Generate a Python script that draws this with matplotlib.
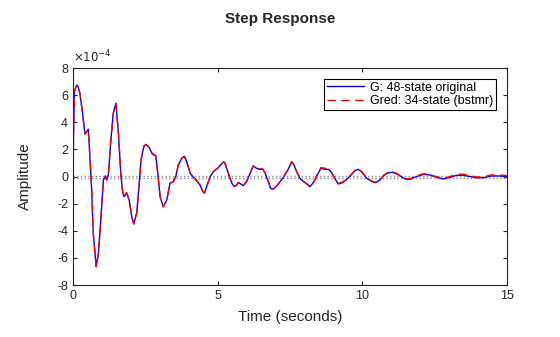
import numpy as np
import matplotlib.pyplot as plt

plt.rcParams['font.family'] = ['Liberation Sans', 'DejaVu Sans']
plt.rcParams['axes.unicode_minus'] = False

# step response samples, amplitude in units of 1e-4
t = [0, 0.02, 0.05, 0.13, 0.18, 0.24, 0.33, 0.41, 0.47, 0.53,
     0.59, 0.64, 0.70, 0.80, 0.88, 0.96, 1.05, 1.12, 1.16, 1.22,
     1.30, 1.39, 1.48, 1.57, 1.65, 1.72, 1.77, 1.85, 1.94, 2.03,
     2.10, 2.20, 2.28, 2.35, 2.45, 2.52, 2.63, 2.74, 2.86, 2.93,
     3.01, 3.12, 3.24, 3.35, 3.47, 3.55, 3.64, 3.76, 3.85, 3.93,
     4.05, 4.16, 4.27, 4.39, 4.47, 4.54, 4.62, 4.74, 4.85, 5.00,
     5.10, 5.20, 5.25, 5.37, 5.49, 5.57, 5.66, 5.71, 5.80, 5.89,
     6.00, 6.12, 6.23, 6.35, 6.44, 6.56, 6.64, 6.75, 6.83, 6.92,
     7.04, 7.16, 7.27, 7.39, 7.48, 7.56, 7.64, 7.75, 7.87, 8.02,
     8.19, 8.33, 8.44, 8.57, 8.71, 8.83, 8.92, 9.04, 9.17, 9.31,
     9.46, 9.61, 9.75, 9.86, 10.00, 10.15, 10.33, 10.46, 10.61, 10.76,
     10.90, 11.04, 11.19, 11.34, 11.50, 11.65, 11.80, 11.95, 12.11, 12.34,
     12.57, 12.80, 13.03, 13.26, 13.49, 13.72, 13.95, 14.18, 14.47, 14.70,
     15.0]

g = [0, 3.5, 6.3, 6.75, 6.6, 6.1, 4.66, 3.13, 3.3, 3.48,
     1.2, -0.75, -4.2, -6.65, -5.65, -3.2, -0.26, 0.04, -0.26, 0.1,
     2.45, 4.66, 5.4, 3.19, 0.24, -1.24, -1.49, -1.19, -1.73, -2.96,
     -3.5, -2.7, -0.75, 1.2, 2.25, 2.35, 2.15, 1.66, 1.51, 0.24,
     -1.49, -2.23, -1.73, -0.5, -0.38, 0.0, 0.85, 1.34, 1.46, 1.09,
     0.24, -0.06, -0.3, -0.63, -1.05, -1.24, -0.75, 0.0, 0.35, 0.6,
     0.85, 1.07, 0.97, 0.24, -0.5, -0.75, -0.63, -0.46, -0.55, -0.68,
     -0.38, 0.24, 0.77, 0.6, 0.53, 0.53, 0.24, -0.38, -0.87, -0.94,
     -0.7, -0.38, -0.06, 0.35, 0.72, 1.05, 0.85, 0.24, -0.21, -0.46,
     -0.75, -0.38, 0.11, 0.6, 0.53, 0.53, 0.35, -0.13, -0.55, -0.46,
     -0.21, 0.11, 0.43, 0.53, 0.28, -0.13, -0.38, -0.46, -0.26, 0.11,
     0.28, 0.31, 0.18, 0.0, -0.21, -0.21, -0.06, 0.05, 0.16, 0.11,
     -0.06, -0.18, -0.06, 0.09, 0.09, 0.0, -0.09, -0.09, 0.04, 0.04,
     0.0]

gred = [0, 3.5, 6.3, 6.75, 6.6, 6.1, 4.66, 3.13, 3.3, 3.48,
        1.2, -0.75, -4.2, -6.65, -5.65, -3.2, -0.26, 0.04, -0.26, 0.1,
        2.45, 4.66, 5.4, 3.19, 0.24, -1.24, -1.49, -1.19, -1.73, -2.96,
        -3.5, -2.7, -0.75, 1.2, 2.25, 2.38, 2.18, 1.7, 1.55, 0.24,
        -1.49, -2.23, -1.73, -0.5, -0.38, 0.0, 0.88, 1.38, 1.5, 1.12,
        0.26, -0.06, -0.3, -0.63, -1.05, -1.24, -0.75, 0.0, 0.37, 0.62,
        0.88, 1.1, 1.0, 0.26, -0.5, -0.72, -0.6, -0.43, -0.52, -0.65,
        -0.36, 0.26, 0.8, 0.65, 0.58, 0.56, 0.26, -0.36, -0.85, -0.92,
        -0.68, -0.36, -0.04, 0.38, 0.76, 1.1, 0.88, 0.26, -0.18, -0.43,
        -0.72, -0.36, 0.14, 0.66, 0.6, 0.58, 0.38, -0.1, -0.5, -0.42,
        -0.18, 0.14, 0.48, 0.58, 0.32, -0.1, -0.34, -0.42, -0.22, 0.14,
        0.32, 0.35, 0.22, 0.03, -0.16, -0.16, -0.02, 0.1, 0.2, 0.15,
        -0.02, -0.13, 0.0, 0.17, 0.17, 0.06, -0.03, -0.03, 0.12, 0.12,
        0.06]

# steady-state levels of the two models
ss_levels = [0.07, -0.08]

fig = plt.figure(figsize=(5.6, 3.37), dpi=100)
ax = fig.add_axes([0.1304, 0.1543, 0.775, 0.6439])

for lvl in ss_levels:
    ax.axhline(lvl, color='#8c8c8c', linestyle=':', linewidth=1)

ax.plot(t, g, color='blue', linewidth=1, label='G: 48-state original')
ax.plot(t, gred, color='red', linestyle='--', dashes=(6, 4), linewidth=1,
        label='Gred: 34-state (bstmr)')

ax.set_xlim(0, 15)
ax.set_ylim(-8, 8)
ax.set_xticks([0, 5, 10, 15])
ax.set_yticks(np.arange(-8, 9, 2))
ax.tick_params(direction='in', top=True, right=True, labelsize=9,
               length=3, width=0.8, colors='#262626')
for s in ax.spines.values():
    s.set_linewidth(0.8)
    s.set_color('#262626')

ax.text(0.0, 1.012, r'$\times10^{-4}$', transform=ax.transAxes,
        fontsize=8.5, color='#262626', va='bottom', ha='left')

ax.set_xlabel('Time (seconds)', fontsize=11, color='#262626', labelpad=6)
ax.set_ylabel('Amplitude', fontsize=11, color='#262626', labelpad=18)
fig.text(0.5, 0.945, 'Step Response', ha='center', va='center',
         fontsize=11, fontweight='bold', color='#262626')

leg = ax.legend(loc='upper right', fontsize=9, fancybox=False,
                framealpha=1, edgecolor='black', borderpad=0.25,
                labelspacing=0.1, handlelength=3.0, handletextpad=0.45,
                borderaxespad=0.85)
leg.get_frame().set_linewidth(0.8)

fig.savefig('out.png', dpi=100)
